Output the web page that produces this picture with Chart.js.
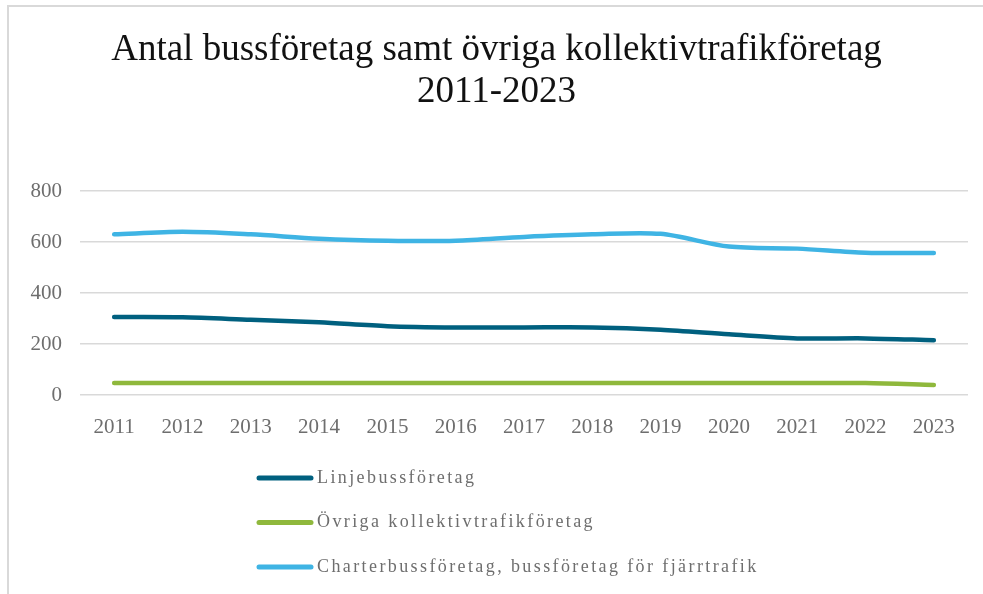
<!DOCTYPE html>
<html>
<head>
<meta charset="utf-8">
<script src="https://cdn.jsdelivr.net/npm/chart.js@4"></script>
<style>
    html, body { margin: 0; padding: 0; background: #fff; }
    #wrap {
        position: absolute; left: 7px; top: 5px; width: 974px; height: 587px;
        border-left: 2px solid #d9d9d9; border-top: 2px solid #d9d9d9;
    }
</style>
</head>
<body>
<div id="wrap"><canvas id="BusChart"></canvas></div>
<script>
(function () {
    var years = ['2011', '2012', '2013', '2014', '2015', '2016', '2017', '2018', '2019', '2020', '2021', '2022', '2023'];
    var linjebuss = [306, 305, 295, 285, 270, 265, 265, 265, 256, 238, 222, 222, 215];
    var ovriga = [47, 47, 47, 47, 47, 47, 47, 47, 47, 47, 47, 47, 39];
    var charter = [630, 640, 630, 613, 605, 605, 620, 630, 632, 582, 574, 558, 557];
    var yTicks = [0, 200, 400, 600, 800];

    var seriesNames = ['Linjebussföretag', 'Övriga kollektivtrafikföretag', 'Charterbussföretag, bussföretag för fjärrtrafik'];
    var seriesColors = ['#00607f', '#8fb83c', '#3fb4e4'];

    var serif = '"Liberation Serif", "DejaVu Serif", serif';
    var grey = '#6e6e6e';

    // Excel-style legend: one entry per row, short line in front of the text
    var stackedLegend = {
        id: 'stackedLegend',
        afterDraw: function (chart) {
            var ctx = chart.ctx;
            ctx.save();
            ctx.font = '18px ' + serif;
            ctx.letterSpacing = '2.4px';
            ctx.textBaseline = 'middle';
            chart.data.datasets.forEach(function (ds, i) {
                var y = 471 + i * 44.5;
                ctx.strokeStyle = ds.borderColor;
                ctx.lineWidth = 5;
                ctx.lineCap = 'round';
                ctx.beginPath();
                ctx.moveTo(250, y);
                ctx.lineTo(302, y);
                ctx.stroke();
                ctx.fillStyle = grey;
                ctx.fillText(ds.label, 308, y);
            });
            ctx.restore();
        }
    };

    function makeSet(idx, values) {
        return {
            label: seriesNames[idx],
            data: values,
            borderColor: seriesColors[idx],
            backgroundColor: seriesColors[idx],
            borderWidth: 4.5,
            borderCapStyle: 'round',
            pointRadius: 0,
            tension: 0.3
        };
    }

    new Chart(document.getElementById('BusChart'), {
        type: 'line',
        data: {
            labels: years,
            datasets: [makeSet(0, linjebuss), makeSet(1, ovriga), makeSet(2, charter)]
        },
        options: {
            responsive: true,
            maintainAspectRatio: false,
            animation: false,
            layout: { padding: { left: 16, right: 15, top: 0, bottom: 139 } },
            plugins: {
                legend: { display: false },
                tooltip: { enabled: false },
                title: {
                    display: true,
                    text: ['Antal bussföretag samt övriga kollektivtrafikföretag', '2011-2023'],
                    color: '#111',
                    font: { family: serif, size: 37, weight: 'normal', lineHeight: 1.135 },
                    padding: { top: 22, bottom: 78 }
                }
            },
            scales: {
                x: {
                    offset: true,
                    grid: { display: false },
                    border: { display: false },
                    ticks: { color: grey, font: { family: serif, size: 21 }, padding: 12, maxRotation: 0 },
                    afterFit: function (scale) { scale.height = 60; }
                },
                y: {
                    min: 0,
                    max: 800,
                    afterBuildTicks: function (scale) {
                        scale.ticks = yTicks.map(function (v) { return { value: v }; });
                    },
                    grid: { color: '#d9d9d9', lineWidth: 1.5, drawTicks: false },
                    border: { display: false },
                    ticks: { color: grey, font: { family: serif, size: 21 }, padding: 18 },
                    afterFit: function (scale) { scale.width = 55; }
                }
            }
        },
        plugins: [stackedLegend]
    });
})();
</script>
</body>
</html>
